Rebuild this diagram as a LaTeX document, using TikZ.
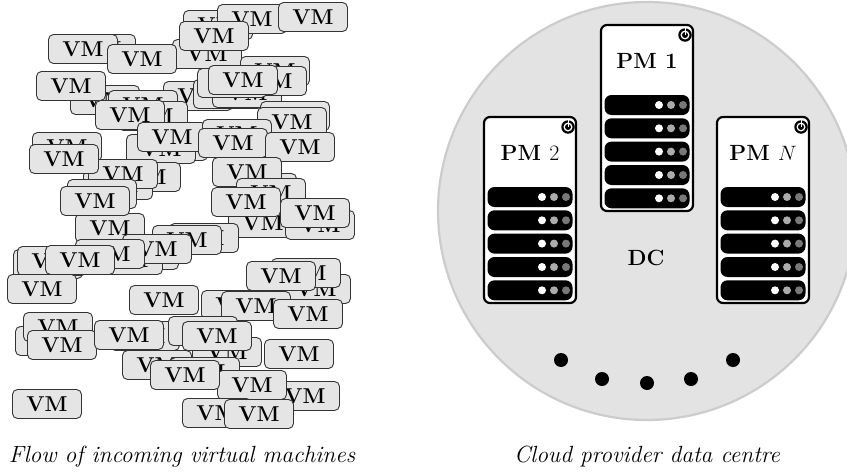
\documentclass[tikz,border=0pt]{standalone}
\tikzset{
  px/.style={x=1pt,y=-1pt},
  vmbox/.style={draw=black!80,line width=0.9pt,fill=black!10,rounded corners=5pt,minimum width=69pt,minimum height=29pt,inner sep=0pt,font=\fontsize{21.5}{26}\selectfont\bfseries},
  pmbox/.style={draw=black,line width=2.2pt,fill=white,rounded corners=6pt,minimum width=92pt,minimum height=186pt,inner sep=0pt},
  barbox/.style={draw=none,fill=black,rounded corners=7pt,minimum width=85pt,minimum height=20pt,inner sep=0pt},
  led/.style={circle,draw=none,minimum size=8pt,inner sep=0pt},
  bigdot/.style={circle,fill=black,draw=none,minimum size=14pt,inner sep=0pt},
  pmlabel/.style={font=\fontsize{22}{26}\selectfont\bfseries,inner sep=0pt},
  caption/.style={font=\fontsize{23.4}{28}\selectfont\itshape,inner sep=0pt},
}
\newcommand{\pmachine}[4]{%
  \begin{scope}[shift={(#2,#3)}]
    \node[pmbox] (#1) at (0,93) {};
    \node[pmlabel] (#1label) at (0,36) {#4};
    \node[circle,fill=black,minimum size=13.5pt,inner sep=0pt] (#1pw) at (38,10) {};
    \node[circle,fill=white,minimum size=9pt,inner sep=0pt] at (#1pw) {};
    \node[circle,fill=black,minimum size=6pt,inner sep=0pt] at (#1pw) {};
    \draw[white,line width=0.9pt] (#1pw.center) -- (#1pw.north);
    \foreach \k/\yy in {1/80,2/103.3,3/126.6,4/150,5/173.3}{
      \node[barbox] (#1bar\k) at (0,\yy) {};
      \node[led,fill=white] at (12,\yy) {};
      \node[led,fill=black!33] at (24,\yy) {};
      \node[led,fill=black!53] at (36,\yy) {};
    }
  \end{scope}}
\begin{document}
\begin{tikzpicture}[px]
\useasboundingbox (0,0) rectangle (847,474);
\begin{scope}
\clip (0,0) rectangle (847,474);
\node[circle,draw=black!20,fill=black!11,line width=2.2pt,minimum size=418pt,inner sep=0pt] (dc) at (647,211) {};
\end{scope}
\pmachine{pma}{647}{25}{PM 1}
\pmachine{pmb}{530}{117}{PM \mdseries 2}
\pmachine{pmn}{763}{117}{PM \mdseries $N$}
\node[pmlabel] (dclabel) at (646,258) {DC};
\node[bigdot] (d1) at (561,360) {};
\node[bigdot] (d2) at (602,379) {};
\node[bigdot] (d3) at (647,383) {};
\node[bigdot] (d4) at (691,379) {};
\node[bigdot] (d5) at (733,360) {};
\foreach \x/\y [count=\i] in {
  218/25,252/19,313/17,207/54,214/36,
  101/49,83/49,142/59,
  275/71,198/96,228/94,247/93,272/81,232/83,243/80,
  105/100,71/86,143/105,153/116,130/115,
  295/116,292/122,
  173/146,161/149,172/137,237/134,233/143,300/147,
  67/147,146/177,118/185,123/174,64/159,102/194,110/228,95/201,
  262/188,247/172,271/193,263/223,246/202,320/225,315/213,
  204/238,187/240,144/255,128/260,157/249,110/254,48/264,52/261,80/260,42/289,
  316/289,306/273,281/276,236/305,256/306,308/314,
  164/300,
  50/341,58/327,62/345,227/352,145/336,129/335,203/331,217/336,
  299/354,305/396,157/365,205/372,252/385,185/375,217/413,259/414,47/404}
  {\node[vmbox] (vm\i) at (\x,\y) {VM};}
\node[caption] (cap1) at (182,457) {Flow of incoming virtual machines};
\node[caption] (cap2) at (647,457) {Cloud provider data centre};
\end{tikzpicture}
\end{document}
